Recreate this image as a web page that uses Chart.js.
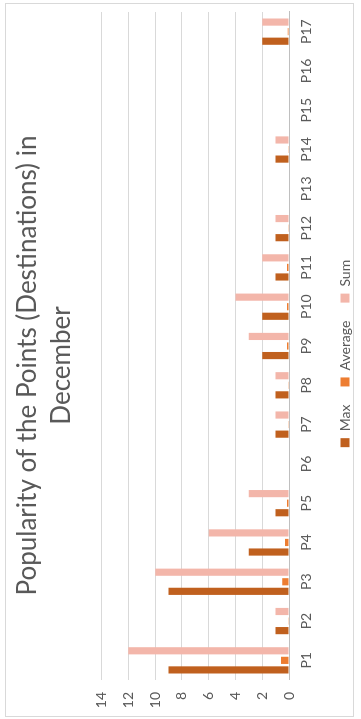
<!DOCTYPE html>
<html>
<head>
<meta charset="utf-8">
<script src="https://cdn.jsdelivr.net/npm/chart.js@4.4.1/dist/chart.umd.min.js"></script>
<style>
  html, body { margin: 0; padding: 0; background: #ffffff; }
  body { width: 361px; height: 719px; overflow: hidden; position: relative; }
  /* chart is laid out landscape, then turned a quarter-turn counter-clockwise */
  #frame {
    position: absolute; left: 0; top: 0;
    width: 719px; height: 361px;
    transform-origin: 0 0;
    transform: translateY(719px) rotate(-90deg);
  }
  canvas { display: block; }
</style>
</head>
<body>
<div id="frame"><canvas id="chart" width="719" height="361"></canvas></div>
<script>
// Points visited in December
const categories = ['P1','P2','P3','P4','P5','P6','P7','P8','P9','P10','P11','P12','P13','P14','P15','P16','P17'];
const maxValues     = [9, 1, 9, 3, 1, 0, 1, 1, 2, 2, 1, 1, 0, 1, 0, 0, 2];
const averageValues = [0.6, 0.05, 0.5, 0.3, 0.15, 0, 0.05, 0.05, 0.15, 0.15, 0.15, 0.05, 0, 0.05, 0, 0, 0.1];
const sumValues     = [12, 1, 10, 6, 3, 0, 1, 1, 3, 4, 2, 1, 0, 1, 0, 0, 2];
const valueTicks    = [0, 2, 4, 6, 8, 10, 12, 14];

const textGray = '#595959';
const fontFamily = 'Lato, "Open Sans", sans-serif';

// light outline around the whole chart
const outline = {
  id: 'outline',
  beforeDraw(chart) {
    const ctx = chart.ctx;
    ctx.save();
    ctx.fillStyle = '#ffffff';
    ctx.fillRect(0, 0, chart.width, chart.height);
    ctx.strokeStyle = '#D9D9D9';
    ctx.lineWidth = 1;
    ctx.strokeRect(2.5, 5.5, 713, 348);
    ctx.restore();
  }
};

// centre the legend under the plot area rather than the whole canvas
const legendShift = {
  id: 'legendShift',
  afterLayout(chart) {
    const lg = chart.legend;
    if (lg) { lg.left += 12; lg.right += 12; lg.top += 1; lg.bottom += 1; }
  }
};

new Chart(document.getElementById('chart'), {
  type: 'bar',
  data: {
    labels: categories,
    datasets: [
      { label: 'Max', data: maxValues, backgroundColor: '#C0601E' },
      { label: 'Average', data: averageValues, backgroundColor: '#ED7D31' },
      { label: 'Sum', data: sumValues, backgroundColor: '#F3B6AA' }
    ]
  },
  options: {
    responsive: false,
    animation: false,
    devicePixelRatio: 1,
    datasets: { bar: { categoryPercentage: 0.73, barPercentage: 0.75 } },
    layout: { padding: { left: 0, right: 12, top: 0, bottom: 0 } },
    plugins: {
      title: {
        display: true,
        text: ['Popularity of the Points (Destinations) in', 'December'],
        color: textGray,
        font: { family: fontFamily, size: 26, weight: 'normal', lineHeight: 1.3 },
        padding: { top: 11, bottom: 23 }
      },
      legend: {
        position: 'bottom',
        labels: {
          color: textGray,
          font: { family: fontFamily, size: 14 },
          boxWidth: 9, boxHeight: 9,
          padding: 18
        }
      },
      tooltip: { enabled: false }
    },
    scales: {
      x: {
        grid: { display: false, drawTicks: false },
        border: { display: true, color: '#BFBFBF' },
        ticks: { color: textGray, font: { family: fontFamily, size: 14 }, padding: 9, maxRotation: 0 },
        afterFit(scale) { scale.height = 30; }
      },
      y: {
        min: 0, max: 14,
        afterBuildTicks(scale) { scale.ticks = valueTicks.map(v => ({ value: v })); },
        grid: { color: '#D9D9D9', drawTicks: false },
        border: { display: false },
        ticks: { color: textGray, font: { family: fontFamily, size: 14 }, padding: 12 },
        afterFit(scale) { scale.width = 39; }
      }
    }
  },
  plugins: [outline, legendShift]
});
</script>
</body>
</html>
